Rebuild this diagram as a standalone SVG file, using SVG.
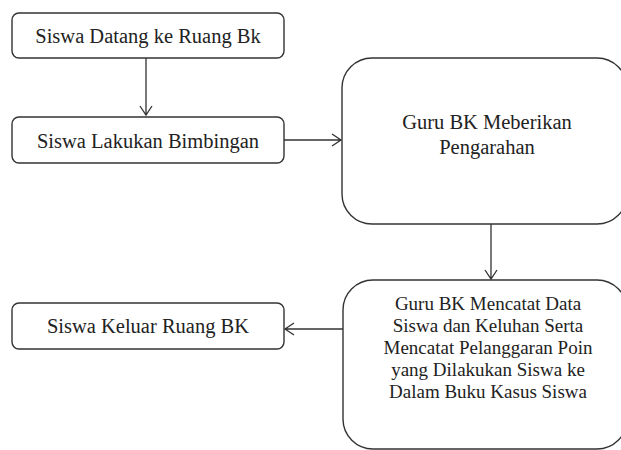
<svg xmlns="http://www.w3.org/2000/svg" width="621" height="450" viewBox="0 0 621 450">
<style>
.box{fill:#fff;stroke:#333;stroke-width:1.4}
.t{font-family:"Liberation Serif","Times New Roman",serif;font-size:20.5px;fill:#222;text-anchor:middle}
.s{font-size:19px}
.c{fill:none;stroke:#333;stroke-width:1.3}
</style>
<rect width="621" height="450" fill="#fff"/>
<g id="connectors">
<path class="c" d="M146 58 V115 M140 106 L146 115 L152 106"/>
<path class="c" d="M284 140 H341 M332 134 L341 140 L332 146"/>
<path class="c" d="M491 224 V279 M485 270 L491 279 L497 270"/>
<path class="c" d="M343 329 H285 M294 323 L285 329 L294 335"/>
</g>
<g id="n1"><rect class="box" x="12" y="13" width="272" height="45" rx="7"/><text class="t" x="148" y="42.5">Siswa Datang ke Ruang Bk</text></g>
<g id="n2"><rect class="box" x="12" y="117" width="272" height="46" rx="7"/><text class="t" x="148" y="147.5">Siswa Lakukan Bimbingan</text></g>
<g id="n3"><rect class="box" x="342" y="58" width="285" height="166" rx="30"/><text class="t" y="129"><tspan x="487">Guru BK Meberikan</tspan><tspan x="487" dy="24.5">Pengarahan</tspan></text></g>
<g id="n4"><rect class="box" x="343" y="280" width="284" height="169" rx="30"/>
<text class="t s" y="310"><tspan x="488">Guru BK Mencatat Data</tspan><tspan x="488" dy="22">Siswa dan Keluhan Serta</tspan><tspan x="488" dy="22">Mencatat Pelanggaran Poin</tspan><tspan x="488" dy="22">yang Dilakukan Siswa ke</tspan><tspan x="488" dy="22">Dalam Buku Kasus Siswa</tspan></text></g>
<g id="n5"><rect class="box" x="12" y="303" width="272" height="46" rx="7"/><text class="t" x="148" y="332.7">Siswa Keluar Ruang BK</text></g>
</svg>
